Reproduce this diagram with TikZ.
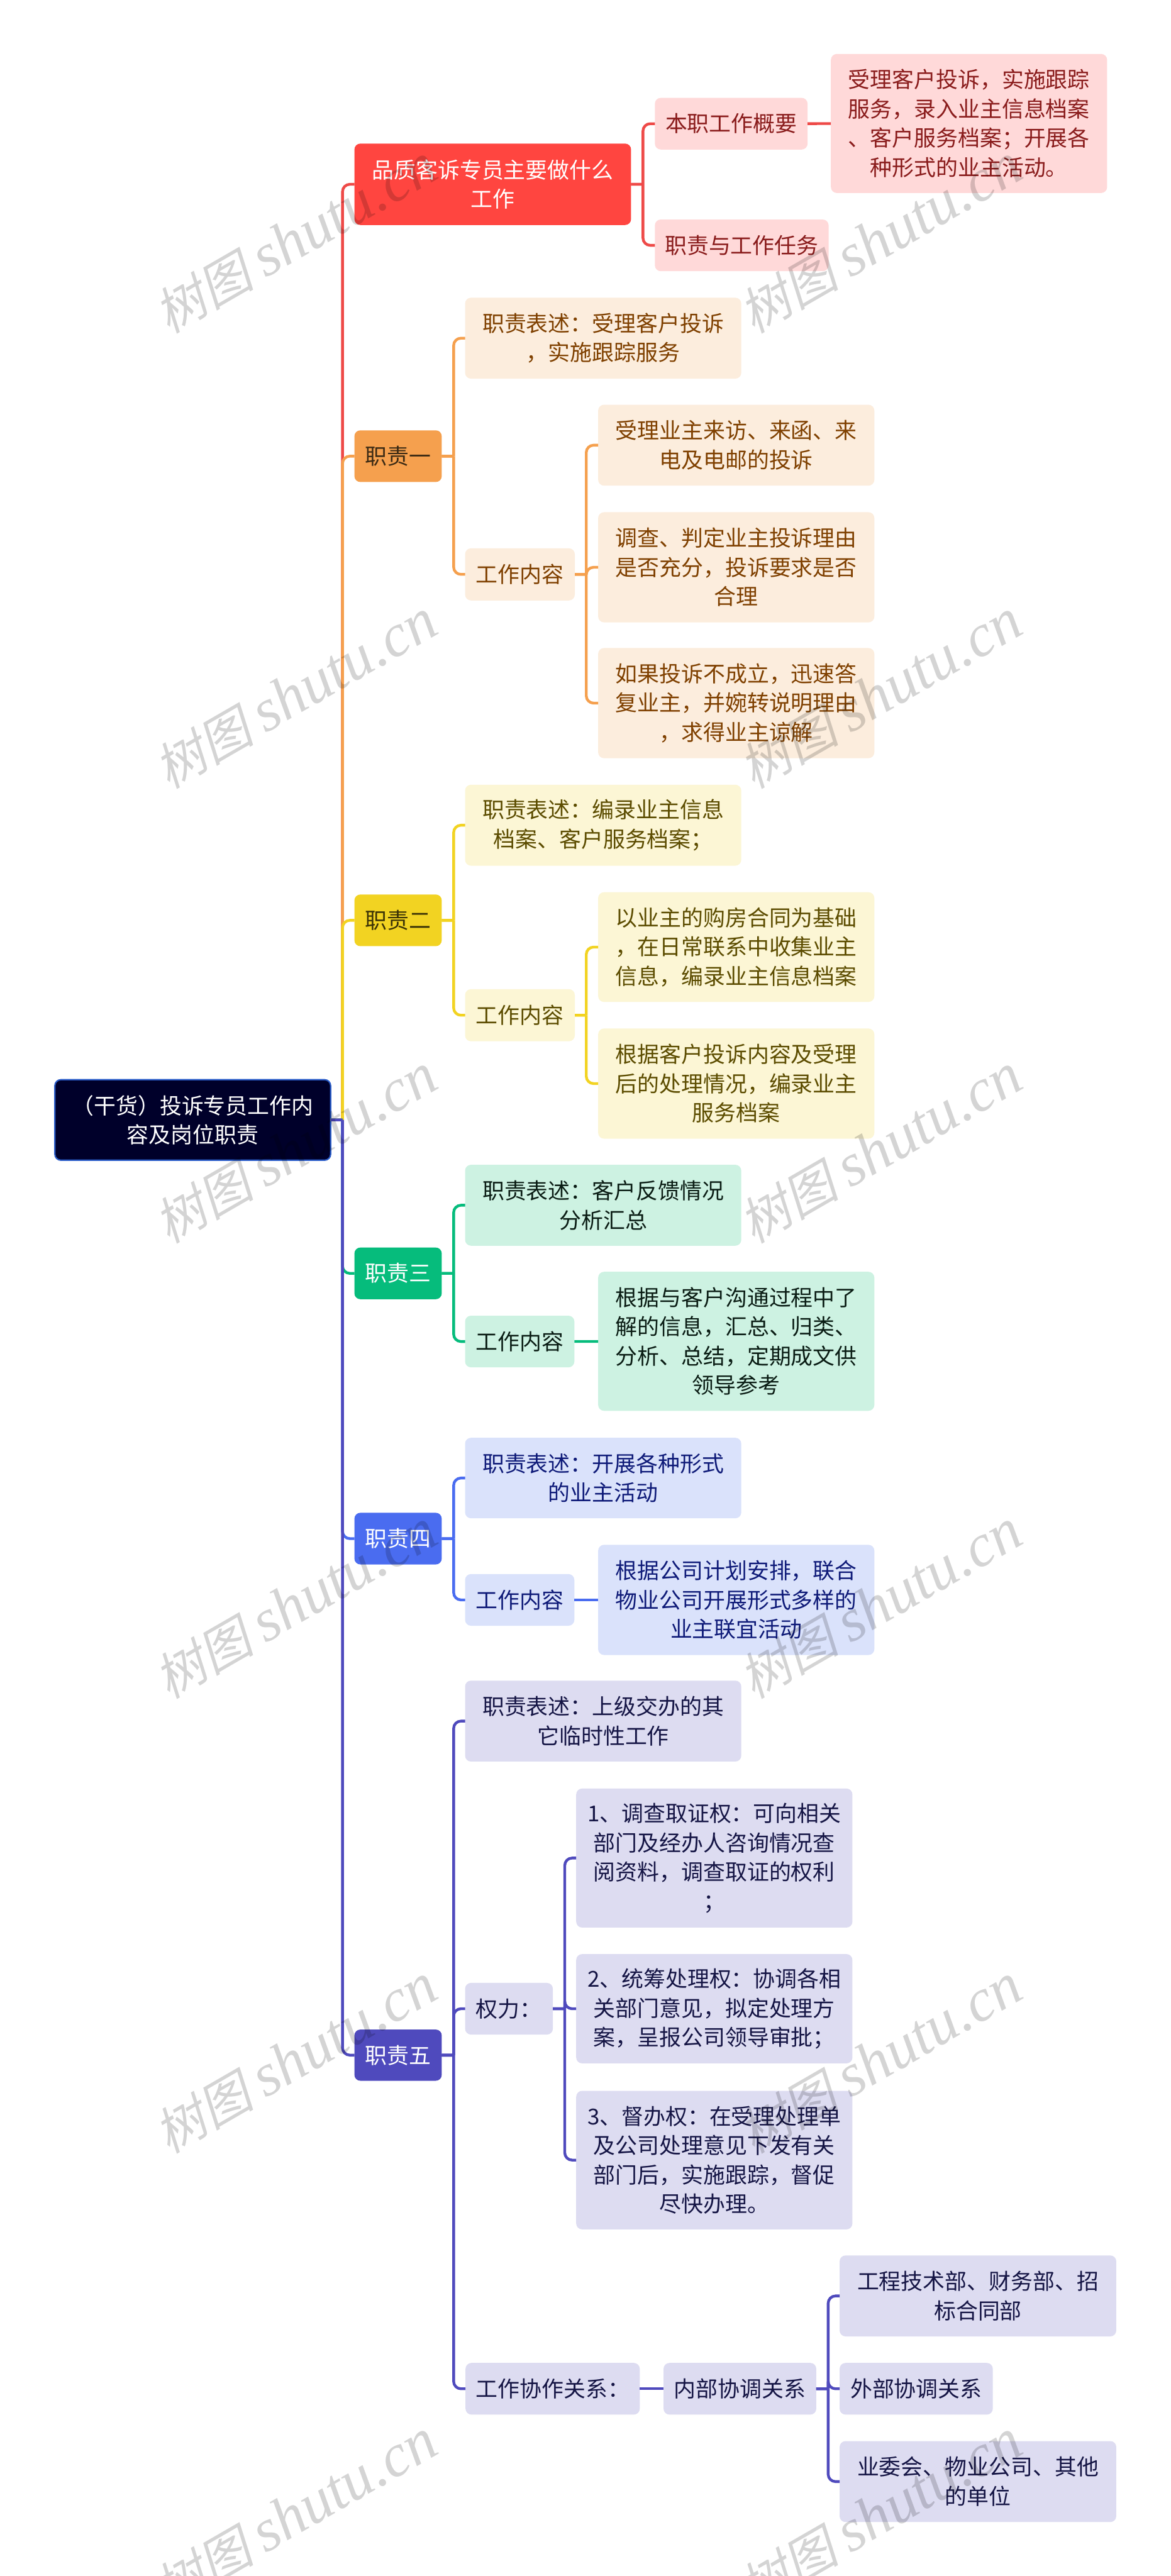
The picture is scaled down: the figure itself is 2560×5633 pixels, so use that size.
\documentclass[tikz,border=0pt]{standalone}
\usepackage{fontspec}
\setmainfont{Noto Sans CJK SC}
\newfontfamily\wmcjk[FakeSlant=0.22]{Noto Sans CJK SC}
\newfontfamily\wmlat{Liberation Serif Italic}
\definecolor{cR}{HTML}{FF4540}\definecolor{cRl}{HTML}{FFD9D9}\definecolor{cRt}{HTML}{8A1C1C}\definecolor{cRk}{HTML}{EE4A48}
\definecolor{cO}{HTML}{F5A04E}\definecolor{cOl}{HTML}{FCEDDD}\definecolor{cOt}{HTML}{7F4000}\definecolor{cOd}{HTML}{3B2A14}
\definecolor{cY}{HTML}{F2D322}\definecolor{cYl}{HTML}{FCF6D5}\definecolor{cYt}{HTML}{5C4C00}\definecolor{cYd}{HTML}{3A3206}
\definecolor{cG}{HTML}{06BC7C}\definecolor{cGl}{HTML}{CDF2E2}\definecolor{cGt}{HTML}{0A1C14}
\definecolor{cB}{HTML}{4A6CF0}\definecolor{cBl}{HTML}{DAE2FB}\definecolor{cBt}{HTML}{0E1A78}
\definecolor{cP}{HTML}{4F4ABD}\definecolor{cPl}{HTML}{DDDCF1}\definecolor{cPt}{HTML}{151545}
\definecolor{cRoot}{HTML}{00002A}\definecolor{cRootB}{HTML}{2A5CC8}
\tikzset{
  mbox/.style={rectangle,rounded corners=13pt,inner sep=0pt,outer sep=0pt,align=center,font=\fontsize{48}{64}\selectfont},
  lnk/.style={line width=6pt,rounded corners=16pt},
  wm/.style={rotate=30,text=black,text opacity=0.17,inner sep=0pt},
  rootbox/.style={mbox,fill=cRoot,draw=cRootB,line width=3pt,text=white},
  redtop/.style={mbox,fill=cR,text=white},
  redsub/.style={mbox,fill=cRl,text=cRt},
  ortop/.style={mbox,fill=cO,text=cOd},
  orsub/.style={mbox,fill=cOl,text=cOt},
  yetop/.style={mbox,fill=cY,text=cYd},
  yesub/.style={mbox,fill=cYl,text=cYt},
  grtop/.style={mbox,fill=cG,text=white},
  grsub/.style={mbox,fill=cGl,text=cGt},
  bltop/.style={mbox,fill=cB,text=white},
  blsub/.style={mbox,fill=cBl,text=cBt},
  putop/.style={mbox,fill=cP,text=white},
  pusub/.style={mbox,fill=cPl,text=cPt},
}
% name, x1, y1, x2, y2, style, text
\newcommand{\mmbox}[7]{\node[#6,minimum width={(#4-#2)*1pt},minimum height={(#5-#3)*1pt}] (#1) at ({(#2+#4)/2},{(#3+#5)/2}) {#7};}
% parent, bend coordinate, child, colour
\newcommand{\mmlink}[4]{\draw[lnk,#4] (#1.east) -- (#1.east -| #2) (#1.east -| #2) -- (#2 |- #3.west) -- (#3.west);}
\newcommand{\mmwm}[3]{\node[wm] (#1) at (#2,#3) {\fontsize{110}{120}\selectfont{\wmcjk 树图} \fontsize{132}{120}\selectfont{\wmlat shutu.cn}};}
\begin{document}
\begin{tikzpicture}[x=1pt,y=-1pt]
\useasboundingbox (0,0) rectangle (2560,5633);
\fill[white] (0,0) rectangle (2560,5633);
\mmbox{root}{120}{2361}{723}{2537}{rootbox}{（干货）投诉专员工作内\\容及岗位职责}
\mmbox{top0}{775}{314}{1380}{492}{redtop}{品质客诉专员主要做什么\\工作}
\mmbox{r1}{1432}{214}{1766}{327}{redsub}{本职工作概要}
\mmbox{r11}{1817}{118}{2421}{422}{redsub}{受理客户投诉，实施跟踪\\服务，录入业主信息档案\\、客户服务档案；开展各\\种形式的业主活动。}
\mmbox{r2}{1432}{480}{1812}{593}{redsub}{职责与工作任务}
\mmbox{top1}{775}{941}{966}{1054}{ortop}{职责一}
\mmbox{o1}{1017}{651}{1621}{828}{orsub}{职责表述：受理客户投诉\\，实施跟踪服务}
\mmbox{o2}{1017}{1199}{1257}{1313}{orsub}{工作内容}
\mmbox{o21}{1308}{885}{1912}{1062}{orsub}{受理业主来访、来函、来\\电及电邮的投诉}
\mmbox{o22}{1308}{1120}{1912}{1361}{orsub}{调查、判定业主投诉理由\\是否充分，投诉要求是否\\合理}
\mmbox{o23}{1308}{1417}{1912}{1658}{orsub}{如果投诉不成立，迅速答\\复业主，并婉转说明理由\\，求得业主谅解}
\mmbox{top2}{775}{1956}{966}{2069}{yetop}{职责二}
\mmbox{y1}{1017}{1716}{1621}{1893}{yesub}{职责表述：编录业主信息\\档案、客户服务档案；}
\mmbox{y2}{1017}{2163}{1257}{2277}{yesub}{工作内容}
\mmbox{y21}{1308}{1951}{1912}{2191}{yesub}{以业主的购房合同为基础\\，在日常联系中收集业主\\信息，编录业主信息档案}
\mmbox{y22}{1308}{2249}{1912}{2490}{yesub}{根据客户投诉内容及受理\\后的处理情况，编录业主\\服务档案}
\mmbox{top3}{775}{2728}{966}{2841}{grtop}{职责三}
\mmbox{g1}{1017}{2547}{1621}{2724}{grsub}{职责表述：客户反馈情况\\分析汇总}
\mmbox{g2}{1017}{2877}{1256}{2990}{grsub}{工作内容}
\mmbox{g21}{1308}{2781}{1912}{3085}{grsub}{根据与客户沟通过程中了\\解的信息，汇总、归类、\\分析、总结，定期成文供\\领导参考}
\mmbox{top4}{775}{3308}{966}{3421}{bltop}{职责四}
\mmbox{b1}{1017}{3144}{1621}{3320}{blsub}{职责表述：开展各种形式\\的业主活动}
\mmbox{b2}{1017}{3442}{1256}{3555}{blsub}{工作内容}
\mmbox{b21}{1308}{3378}{1912}{3619}{blsub}{根据公司计划安排，联合\\物业公司开展形式多样的\\业主联宜活动}
\mmbox{top5}{775}{4438}{966}{4550}{putop}{职责五}
\mmbox{p1}{1017}{3675}{1621}{3852}{pusub}{职责表述：上级交办的其\\它临时性工作}
\mmbox{p2}{1017}{4336}{1209}{4449}{pusub}{权力：}
\mmbox{p21}{1260}{3911}{1864}{4215}{pusub}{1、调查取证权：可向相关\\部门及经办人咨询情况查\\阅资料，调查取证的权利\\；}
\mmbox{p22}{1260}{4273}{1864}{4512}{pusub}{2、统筹处理权：协调各相\\关部门意见，拟定处理方\\案，呈报公司领导审批；}
\mmbox{p23}{1260}{4572}{1864}{4875}{pusub}{3、督办权：在受理处理单\\及公司处理意见下发有关\\部门后，实施跟踪，督促\\尽快办理。}
\mmbox{p3}{1018}{5167}{1399}{5280}{pusub}{工作协作关系：}
\mmbox{p31}{1451}{5167}{1785}{5280}{pusub}{内部协调关系}
\mmbox{p311}{1836}{4932}{2441}{5109}{pusub}{工程技术部、财务部、招\\标合同部}
\mmbox{p312}{1836}{5167}{2171}{5280}{pusub}{外部协调关系}
\mmbox{p313}{1836}{5338}{2441}{5515}{pusub}{业委会、物业公司、其他\\的单位}
\coordinate (T) at (749,0);
\coordinate (Sb) at (992,0);
\coordinate (Sr) at (1406,0);
\coordinate (So) at (1282,0);
\coordinate (Sp) at (1235,0);
\coordinate (Sq) at (1811,0);
% top-level branches
\mmlink{root}{T}{top0}{cRk}
\mmlink{root}{T}{top1}{cO}
\mmlink{root}{T}{top2}{cY}
\mmlink{root}{T}{top3}{cG}
\mmlink{root}{T}{top4}{cB}
\mmlink{root}{T}{top5}{cP}
% red
\mmlink{top0}{Sr}{r1}{cRk}
\mmlink{top0}{Sr}{r2}{cRk}
\draw[lnk,cRk] (r1) -- (r11);
% orange
\mmlink{top1}{Sb}{o1}{cO}
\mmlink{top1}{Sb}{o2}{cO}
\mmlink{o2}{So}{o21}{cO}
\mmlink{o2}{So}{o22}{cO}
\mmlink{o2}{So}{o23}{cO}
% yellow
\mmlink{top2}{Sb}{y1}{cY}
\mmlink{top2}{Sb}{y2}{cY}
\mmlink{y2}{So}{y21}{cY}
\mmlink{y2}{So}{y22}{cY}
% green
\mmlink{top3}{Sb}{g1}{cG}
\mmlink{top3}{Sb}{g2}{cG}
\draw[lnk,cG] (g2) -- (g21);
% blue
\mmlink{top4}{Sb}{b1}{cB}
\mmlink{top4}{Sb}{b2}{cB}
\draw[lnk,cB] (b2) -- (b21);
% purple
\mmlink{top5}{Sb}{p1}{cP}
\mmlink{top5}{Sb}{p2}{cP}
\mmlink{top5}{Sb}{p3}{cP}
\mmlink{p2}{Sp}{p21}{cP}
\mmlink{p2}{Sp}{p22}{cP}
\mmlink{p2}{Sp}{p23}{cP}
\draw[lnk,cP] (p3) -- (p31);
\mmlink{p31}{Sq}{p311}{cP}
\mmlink{p31}{Sq}{p312}{cP}
\mmlink{p31}{Sq}{p313}{cP}
% watermark
\mmwm{wa1}{646}{523}\mmwm{wb1}{1925}{523}
\mmwm{wa2}{646}{1518}\mmwm{wb2}{1925}{1518}
\mmwm{wa3}{646}{2513}\mmwm{wb3}{1925}{2513}
\mmwm{wa4}{646}{3508}\mmwm{wb4}{1925}{3508}
\mmwm{wa5}{646}{4503}\mmwm{wb5}{1925}{4503}
\mmwm{wa6}{646}{5498}\mmwm{wb6}{1925}{5498}
\end{tikzpicture}
\end{document}
